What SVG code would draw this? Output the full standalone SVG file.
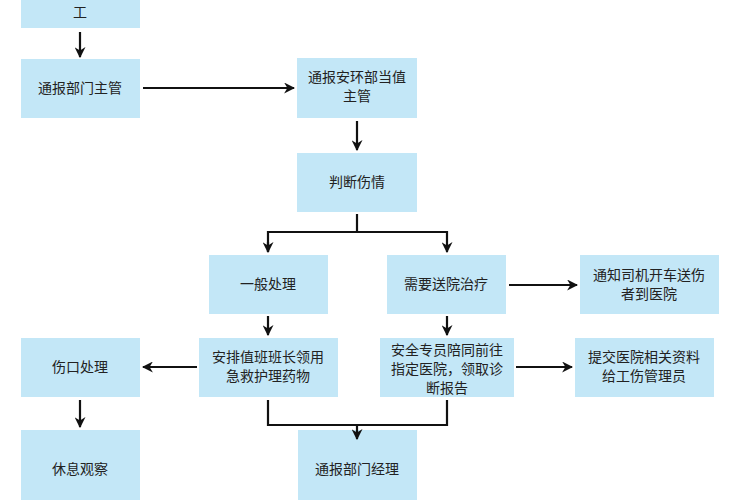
<svg xmlns="http://www.w3.org/2000/svg" width="750" height="500" viewBox="0 0 750 500">
<style>
rect{fill:#c3e7f7}
text{font-family:"Noto Sans CJK SC",sans-serif;font-size:14px;fill:#222;text-anchor:middle}
.c path{fill:none;stroke:#111;stroke-width:2.2}
</style>
<defs><marker id="a" viewBox="0 0 10 10" refX="9" refY="5" markerWidth="5" markerHeight="5" orient="auto"><path d="M0,0L10,5L0,10L3,5z" fill="#111"/></marker></defs>
<rect width="750" height="500" style="fill:#fff"/>
<g id="n0"><rect x="21" y="-10" width="119" height="38"/><text x="80" y="17">工</text></g>
<g id="n1"><rect x="21" y="59" width="119" height="59"/><text x="80" y="93">通报部门主管</text></g>
<g id="n2"><rect x="297" y="58" width="120" height="60"/><text x="357" y="82">通报安环部当值</text><text x="357" y="101">主管</text></g>
<g id="n3"><rect x="297" y="153" width="120" height="59"/><text x="357" y="187">判断伤情</text></g>
<g id="n4"><rect x="209" y="255" width="119" height="59"/><text x="268" y="289">一般处理</text></g>
<g id="n5"><rect x="387" y="255" width="119" height="59"/><text x="446" y="289">需要送院治疗</text></g>
<g id="n6"><rect x="580" y="255" width="139" height="59"/><text x="649" y="280">通知司机开车送伤</text><text x="649" y="299">者到医院</text></g>
<g id="n7"><rect x="21" y="338" width="119" height="59"/><text x="80" y="372">伤口处理</text></g>
<g id="n8"><rect x="199" y="338" width="139" height="59"/><text x="268" y="362">安排值班班长领用</text><text x="268" y="381">急救护理药物</text></g>
<g id="n9"><rect x="380" y="338" width="134" height="59"/><text x="447" y="355">安全专员陪同前往</text><text x="447" y="374">指定医院，领取诊</text><text x="447" y="393">断报告</text></g>
<g id="n10"><rect x="575" y="338" width="139" height="59"/><text x="644" y="362">提交医院相关资料</text><text x="644" y="381">给工伤管理员</text></g>
<g id="n11"><rect x="21" y="430" width="119" height="75"/><text x="80" y="474">休息观察</text></g>
<g id="n12"><rect x="298" y="430" width="119" height="75"/><text x="357" y="474">通报部门经理</text></g>
<g class="c">
<path d="M80,32V57" marker-end="url(#a)"/>
<path d="M143,88H294" marker-end="url(#a)"/>
<path d="M357,121V150" marker-end="url(#a)"/>
<path d="M357,214V232"/>
<path d="M268,252V232H447V252" marker-end="url(#a)"/>
<path d="M268,242V252" marker-end="url(#a)"/>
<path d="M268,316V335" marker-end="url(#a)"/>
<path d="M447,316V335" marker-end="url(#a)"/>
<path d="M509,285H577" marker-end="url(#a)"/>
<path d="M197,367H143" marker-end="url(#a)"/>
<path d="M516,367H572" marker-end="url(#a)"/>
<path d="M80,400V427" marker-end="url(#a)"/>
<path d="M268,400V425H447V400"/>
<path d="M357,425V439" marker-end="url(#a)"/>
</g>
</svg>
